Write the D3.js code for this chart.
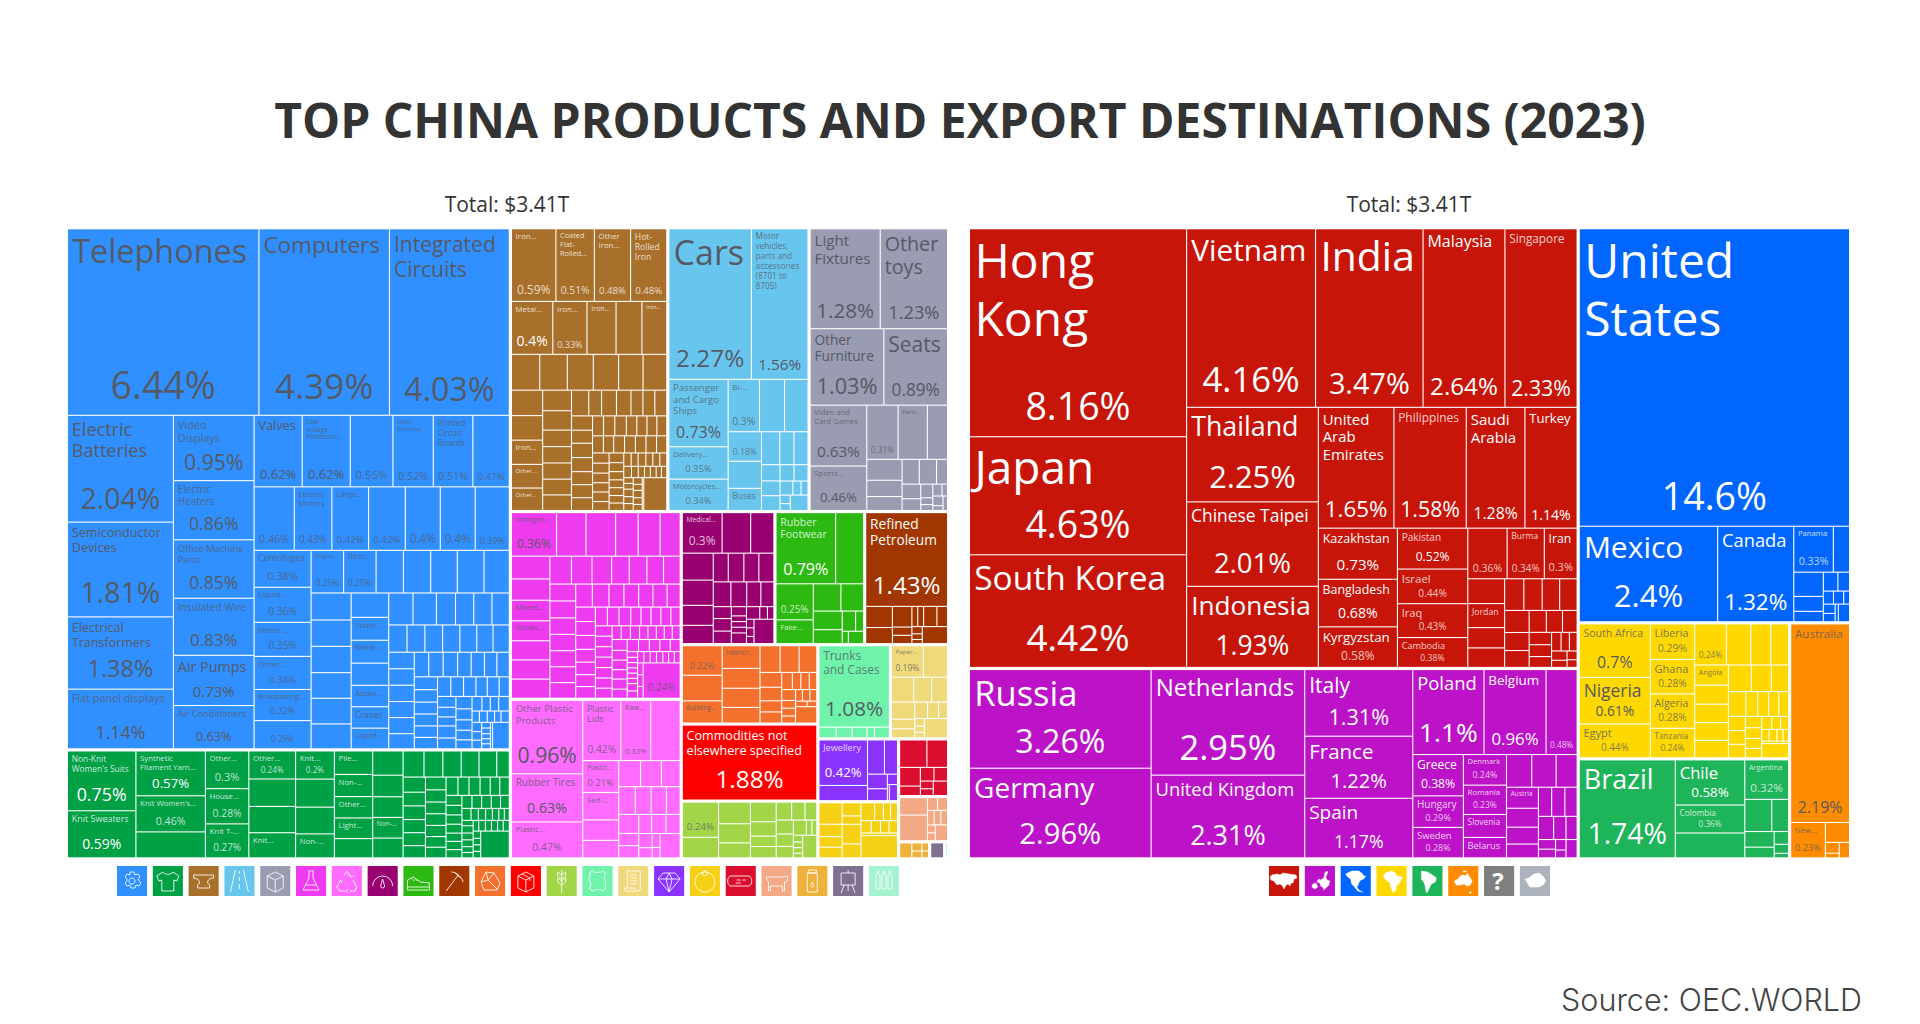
<!DOCTYPE html>
<html>
<head>
<meta charset="utf-8">
<script src="https://cdnjs.cloudflare.com/ajax/libs/d3/7.8.5/d3.min.js"></script>
<style>
  html, body { margin: 0; background: #fff; }
  text { font-family: "Open Sans", sans-serif; }
</style>
</head>
<body>
<svg id="chart" width="1920" height="1024"></svg>
<script>
// products, left treemap. Empty name = cell has no readable name
const machineNames = ["Telephones","Computers","Integrated|Circuits",
  "Electric|Batteries","Semiconductor|Devices","Electrical|Transformers","Flat panel displays",
  "Video|Displays","Electric|Heaters","Office Machine|Parts","Insulated Wire","Air Pumps","Air Conditioners",
  "Valves","Low-|voltage|Protection...","","Other|Electrical...","Printed|Circuit|Boards","",
  "","Electric|Motors","Large...","","","","",
  "Centrifuges","Liquid...","Motor-...","Other...","Broadcasting...","",
  "Engine...","Other...","","","","","",
  "","","","","","",
  "","Stone...","Blank...","","Audio...","Cranes","Liquid..."];
const machineValues = [6.44,4.39,4.03, 2.04,1.81,1.38,1.14, .95,.86,.85,.83,.73,.63,
  .62,.62,.55,.52,.51,.47, .46,.43,.42,.42,.4,.4,.39, .38,.36,.35,.34,.32,.29,
  .25,.25,.21,.21,.205,.205,.195, .195,.19,.19,.185,.185,.18, .165,.155,.155,.15,.145,.145,.14,
  .14,.135,.11,.105,.105,.1, .09,.088,.087,.085,.083,.08,.08, .076,.076,.075,.074,.074,.07,
  .064,.064,.064,.06,.059,.055, .055,.054,.052,.05,.05, .048,.048,.047,.045,.044,.04,
  .042,.036,.036,.032,.03, .04,.036,.036,.032,.03, .028,.026,.026,.022,.022, .028,.015,.016,.015,.013,
  .017,.016,.015,.015, .009,.009,.008,.008,.008, .01,.08];
const machinePrinted = [6.44,4.39,4.03,2.04,1.81,1.38,1.14,.95,.86,.85,.83,.73,.63,.62,.55,.52,.51,.47,.46,.43,.42,.4,.39,.38,.36,.35,.34,.32,.29,.25];

const textileNames = ["Non-Knit|Women's Suits","Knit Sweaters","Synthetic|Filament Yarn...","Knit Women's...","",
  "Other...","House...","Knit T-...","Other...","","","Knit...","Knit...","","","Non-...",
  "Pile...","Non-...","Other...","Light...","","","","","Non-...",""];
const textileValues = [.75,.59,.57,.46,.33, .3,.28,.27, .24,.235,.225,.215, .2,.199,.19,.17, .165,.155,.15,.145,.135,
  .135,.12,.115,.115,.11, .1,.09,.088,.085,.085,.06, .062,.056,.056,.054,.053,.05,
  .048,.046,.044,.044,.042,.04,.04, .04,.037,.037,.034,.032,.032, .029,.028,.027,.026,.024,.024,.024,
  .024,.023,.023,.022,.021,.02, .016,.016,.015,.014,.012,.011,.011, .015,.014,.014,.012,.011,.011,
  .013,.012,.012,.011, .012,.01,.009,.009,.009,.14];
const textilePrinted = [.75,.59,.57,.46,.3,.28,.27,.24,.2];

const metalNames = ["Iron...","Coated|Flat-|Rolled...","Other|Iron...","Hot-|Rolled|Iron","Metal...","Iron...","Iron...","","Iron...",
  "","","","","","","", "","Iron...","Other...","Other..."];
const metalValues = [.59,.51,.48,.48,.4,.33,.281,.25,.24, .185,.18,.17,.165,.16,.155,.145,
  .14,.138,.135,.128,.108,.102, .087,.086,.085,.083,.082,.081,.06, .07,.068,.056,.056,.056,.055,.05,
  .055,.054,.05,.05,.049,.04,.041, .042,.038,.037,.036,.036,.034,.032,
  .034,.034,.033,.033,.032,.031,.03, .029,.028,.029,.027,.026,.024,
  .022,.021,.021,.02,.02,.018,.017, .019,.017,.017,.017,.016,.014, .013,.012,.012,.011,.011,.01,.01,
  .013,.012,.012,.011,.01,.012,.011,.01,.009,.138];
const metalPrinted = [.59,.51,.48,.4,.33];

const transportNames = ["Cars","Motor|vehicles;|parts and|accessories|(8701 to|8705)","Passenger|and Cargo|Ships","Delivery...","Motorcycles...","Bi-...","","","","","Buses"];
const transportValues = [2.27,1.56,.73,.35,.34,.3,.24,.225,.18,.165,.135, .11,.085,.085, .055,.05,.05, .042,.042, .033,.021,.018, .016,.013,.05];
const transportPrinted = [2.27,1.56,.73,.35,.34,.3,.18];

const miscNames = ["Light|Fixtures","Other|toys","Other|Furniture","Seats","Video and|Card Games","Sports...","","Party..."];
const miscValues = [1.28,1.23,1.03,.89,.63,.46,.31,.29,.2, .135,.105,.09, .078,.078,.05, .05,.04, .03,.015,.013, .02,.012, .018,.009,.012];
const miscPrinted = [1.28,1.23,1.03,.89,.63,.46,.31];

const chemicalNames = ["Nitrogen...","","","","","", "","","Mixed...","Nucleic..."];
const chemicalValues = [.36,.235,.236,.18,.175,.16, .16,.15,.145,.14,.135,.135,.135,
  .11,.105,.1,.09,.09,.085,.085, .08,.08,.078,.077,.076,.075,.074, .07,.07,.063,.062,.06,.06,.055,
  .052,.05,.05,.046,.045,.043,.042, .041,.04,.04,.035,.034,.034,.034,.032, .032,.032,.032,.032,.032,.031,.031,
  .023,.023,.023,.021,.021,.02,.02,.02, .03,.027,.026,.026,.028, .025,.025,.024,.023,.023,.022,
  .011,.01,.01,.01,.01,.01, .014,.014,.013,.013,.013,.013, .012,.012,.012,.012,.012,.012,.24];
const chemicalPrinted = [.36,.24];

const plasticNames = ["Other Plastic|Products","Rubber Tires","Plastic...","Plastic|Lids","Raw...","","Plastic...","Self-..."];
const plasticValues = [.96,.63,.47,.42,.33,.325,.21,.18,.135,.115, .105,.1,.09,.085, .08,.078,.07,.07, .045,.045,.045,
  .05,.05, .035,.025,.02,.015,.09];
const plasticPrinted = [.96,.63,.47,.42,.33,.21];

const instrumentNames = ["Medical..."];
const instrumentValues = [.3,.215,.175, .155,.145,.115,.105, .08,.083,.08,.08, .081,.073,.065,.06, .04,.042,.042,
  .026,.016,.016,.016, .03,.031,.018, .015,.012,.012,.01,.09];
const instrumentPrinted = [.3];

const footwearNames = ["Rubber|Footwear","","","Fake..."];
const footwearValues = [.79,.37,.25,.165,.14,.115,.1,.075,.05,.03,.014,.035];
const footwearPrinted = [.79,.25];

const mineralNames = ["Refined|Petroleum"];
const mineralValues = [1.43,.105,.08,.075,.03,.03,.022,.022,.05,.04,.014,.011,.008,.08];
const mineralPrinted = [1.43];

const stoneNames = ["","","Building...","Interior..."];
const stoneValues = [.22,.19,.165,.16,.14,.135,.11,.1,.095,.088,.06,.055,.045,.045,.034,.027,.027,.024,.028,.02,.02,.018,.015,.016,.015,.012,.01,.065];
const stonePrinted = [.22];

const commodityNames = ["Commodities not|elsewhere specified"];
const commodityValues = [1.88];
const commodityPrinted = [1.88];

const vegetableValues = [.24,.14,.13,.115,.09,.095,.07,.05,.055,.052,.045,.04,.045,.04,.037,.037,.016,.014,.012,.01,.01,.008,.06];
const vegetablePrinted = [.24];

const trunkNames = ["Trunks|and Cases"];
const trunkValues = [1.08,.035,.032,.03,.015,.03];
const trunkPrinted = [1.08];

const paperNames = ["Paper..."];
const paperValues = [.19,.145,.105,.085,.075,.075,.042,.04,.04,.034,.028,.014,.011,.01,.085];
const paperPrinted = [.19];

const preciousNames = ["Jewellery"];
const preciousValues = [.42,.14,.11,.085,.055,.045,.02,.006,.025];
const preciousPrinted = [.42];

const foodValues = [.095,.055,.047,.047,.047,.03,.07,.05,.047,.03,.024,.024,.024,.022,.02,.02,.018,.155];
const woodValues = [.145,.11,.075,.038,.036,.036,.019,.017,.04];
const animalValues = [.095,.14,.025,.025,.019,.019,.019,.012,.012,.038];
const byproductValues = [.04,.018,.015,.012,.01];
const artValues = [.046];
const weaponValues = [.012];

// export destinations, right treemap
const asiaNames = ["Hong|Kong","Japan","South Korea","Vietnam","India","Malaysia","Singapore","Thailand","Chinese Taipei","Indonesia",
  "United|Arab|Emirates","Philippines","Saudi|Arabia","Turkey","Kazakhstan","Bangladesh","Kyrgyzstan","Pakistan","Israel","Iraq","Cambodia",
  "","Burma","Iran","","Jordan"];
const asiaValues = [8.16,4.63,4.42,4.16,3.47,2.64,2.33,2.25,2.01,1.93,1.65,1.58,1.28,1.14,.73,.68,.58,.52,.44,.43,.38,.36,.34,.3,
  .165,.16,.135,.13, .11,.105,.1,.1, .098,.08,.075, .068,.064,.058, .05,.048,.044, .032,.028,.026, .026,.02,.016,.014];
const asiaPrinted = [8.16,4.63,4.42,4.16,3.47,2.64,2.33,2.25,2.01,1.93,1.65,1.58,1.28,1.14,.73,.68,.58,.52,.44,.43,.38,.36,.34,.3];

const europeNames = ["Russia","Germany","Netherlands","United Kingdom","Italy","France","Spain","Poland","Belgium","",
  "Greece","Hungary","Sweden","Denmark","Romania","Slovenia","Belarus","","","","Austria"];
const europeValues = [3.26,2.96,2.95,2.31,1.31,1.22,1.17,1.1,.96,.48,.38,.29,.28,.24,.23,.18,.16,
  .15,.145,.125, .122,.11,.098,.08, .07,.07,.065, .064,.052,.047, .03,.027,.02,.015,.037];
const europePrinted = [3.26,2.96,2.95,2.31,1.31,1.22,1.17,1.1,.96,.48,.38,.29,.28,.24,.23];

const northAmericaNames = ["United|States","Mexico","Canada","Panama"];
const northAmericaValues = [14.6,2.4,1.32,.33,.135,.13,.08,.056,.05,.04,.024,.024,.014,.02,.018,.01,.036];
const northAmericaPrinted = [14.6,2.4,1.32,.33];

const africaNames = ["South Africa","Nigeria","Egypt","Liberia","Ghana","Algeria","Tanzania","","","","","Angola"];
const africaValues = [.7,.61,.44,.29,.28,.28,.24,.24,.185,.15,.135, .125,.118,.115,.11,.108, .112,.098,.084, .08,.054,.05,.046,
  .045,.044,.043,.042, .034,.032,.03,.028, .024,.021,.019, .016,.017,.013,.012, .012,.07];
const africaPrinted = [.7,.61,.44,.29,.28,.24];

const southAmericaNames = ["Brazil","Chile","Colombia","","Argentina"];
const southAmericaValues = [1.74,.58,.36,.319,.32,.16,.1,.085,.058,.034,.024,.012];
const southAmericaPrinted = [1.74,.58,.36,.32];

const oceaniaNames = ["Australia","New..."];
const oceaniaValues = [2.19,.23,.09,.028,.012,.03];
const oceaniaPrinted = [2.19,.23];

const DARK = "#555a66", LIGHT = "#ffffff";

// names whose type does not follow the fitting rule in drawTree
const nameSizes = {
  "Russia": 34.5, "Germany": 28, "Mexico": 30, "Italy": 21, "France": 20.5, "Spain": 19, "Japan": 46, "Brazil": 27,
  "Thailand": 26.8, "Indonesia": 26.2, "South Korea": 33.5, "Malaysia": 16, "Singapore": 11.8,
  "Video|Displays": 11, "Electric|Heaters": 10, "Electric|Batteries": 18, "Electrical|Transformers": 12.5,
  "Non-Knit|Women's Suits": 8.4, "Pakistan": 10
};

const productGroups = [
  { color: "#3090ff", text: DARK, names: machineNames, values: machineValues, printed: machinePrinted },
  { color: "#00a045", text: LIGHT, names: textileNames, values: textileValues, printed: textilePrinted },
  { color: "#a8702b", text: LIGHT, names: metalNames, values: metalValues, printed: metalPrinted },
  { color: "#68c6ee", text: DARK, names: transportNames, values: transportValues, printed: transportPrinted },
  { color: "#9a9cb1", text: DARK, names: miscNames, values: miscValues, printed: miscPrinted },
  { color: "#ee3bf0", text: DARK, names: chemicalNames, values: chemicalValues, printed: chemicalPrinted },
  { color: "#ff6cff", text: DARK, names: plasticNames, values: plasticValues, printed: plasticPrinted },
  { color: "#990070", text: LIGHT, names: instrumentNames, values: instrumentValues, printed: instrumentPrinted },
  { color: "#2cb911", text: LIGHT, names: footwearNames, values: footwearValues, printed: footwearPrinted },
  { color: "#a23600", text: LIGHT, names: mineralNames, values: mineralValues, printed: mineralPrinted },
  { color: "#f4712d", text: DARK, names: stoneNames, values: stoneValues, printed: stonePrinted },
  { color: "#ff0000", text: LIGHT, names: commodityNames, values: commodityValues, printed: commodityPrinted },
  { color: "#a2d648", text: DARK, names: [], values: vegetableValues, printed: vegetablePrinted },
  { color: "#6ff3ab", text: DARK, names: trunkNames, values: trunkValues, printed: trunkPrinted },
  { color: "#efd97a", text: DARK, names: paperNames, values: paperValues, printed: paperPrinted },
  { color: "#8a33ff", text: LIGHT, names: preciousNames, values: preciousValues, printed: preciousPrinted },
  { color: "#f6d014", text: DARK, names: [], values: foodValues, printed: [] },
  { color: "#dc0e30", text: LIGHT, names: [], values: woodValues, printed: [] },
  { color: "#f3a985", text: DARK, names: [], values: animalValues, printed: [] },
  { color: "#eeb23c", text: DARK, names: [], values: byproductValues, printed: [] },
  { color: "#7f6f90", text: LIGHT, names: [], values: artValues, printed: [] },
  { color: "#a6f2d0", text: DARK, names: [], values: weaponValues, printed: [] }
];

const destinationGroups = [
  { color: "#c8150a", text: LIGHT, names: asiaNames, values: asiaValues, printed: asiaPrinted },
  { color: "#bc12c8", text: LIGHT, names: europeNames, values: europeValues, printed: europePrinted },
  { color: "#0066ff", text: LIGHT, names: northAmericaNames, values: northAmericaValues, printed: northAmericaPrinted },
  { color: "#ffd800", text: DARK, names: africaNames, values: africaValues, printed: africaPrinted },
  { color: "#1eb45a", text: LIGHT, names: southAmericaNames, values: southAmericaValues, printed: southAmericaPrinted },
  { color: "#ff8c00", text: DARK, names: oceaniaNames, values: oceaniaValues, printed: oceaniaPrinted }
];

// legend glyphs, 30x30 box
const productIcons = [
  "M13 6h4l1 3 3-1 2 3-2 2 1 2 2 2-2 3-3-1-1 3h-4l-1-3-3 1-2-3 2-2v-2l-2-2 2-3 3 1zM15 12a3 3 0 1 0 .01 0",
  "M10 6l-6 4 2 5 3-1v11h12V14l3 1 2-5-6-4c-1 3-9 3-10 0z",
  "M5 9h20v3c-4 0-6 2-6 5l2 2v3H9v-3l2-2c0-3-3-5-6-5z",
  "M11 4L6 26M19 4l5 22M15 5v3M15 11v4M15 18v5",
  "M7 10l8-4 8 4v12l-8 4-8-4zM7 10l8 4 8-4M15 14v12",
  "M12 5h6M13 5v7L7 24h16l-6-12V5M10 19h10",
  "M12 10l3-5 4 6M9 14l-4 7 3 4h5M18 25h5l2-4-4-7M17 8l2 3 3-1M7 16l2-2 1 3M16 23l-2 2 2 2",
  "M5 20a10 10 0 0 1 20 0M15 13l-2 7a2 2 0 0 0 4 0z",
  "M4 14l6-3 7 5 9 1v4H4zM4 21v3h22v-3M9 13l2 2M12 13l2 2",
  "M7 25L19 9M12 6c5 0 10 4 12 10M16 7l5 5",
  "M9 24l-3-8 5-10 8 1 6 10-3 7zM11 6l2 8-7 2M13 14l9 9M19 7l-6 7",
  "M7 10l8-4 8 4v12l-8 4-8-4zM7 10l8 4 8-4M15 14v12M11 8l8 4v3",
  "M15 4v23M15 9l-4-3v4l4 3M15 9l4-3v4l-4 3M15 15l-4-3v4l4 3M15 15l4-3v4l-4 3",
  "M10 5c1 2 9 2 10 0l3 2c-2 4-1 6 0 8s-1 6 0 8l-3 2c-1-2-9-2-10 0l-3-2c1-2 2-6 0-8s2-4 0-8z",
  "M9 5h13v18a2 2 0 0 1-2 2H8a2 2 0 0 1-2-2v-1h11v1M9 5v16M12 9h7M12 12h7M12 15h7M12 18h7",
  "M9 7h12l5 6-11 13L4 13zM4 13h22M12 13l3-6 3 6M12 13l3 13 3-13",
  "M15 6a10 10 0 1 0 .01 0M12 8l3-4 3 4-3 2z",
  "M5 10h18a3 5 0 0 1 0 10H5a3 5 0 0 1 0-10zM11 14h4M17 14h3M10 17h5",
  "M5 11h16l5-1v5l-3 1v9h-2v-5H9v5H7v-9L5 13z",
  "M11 4h8v3h-8zM10 7h10v19H10zM15 16c-2 3-2 5 0 5s2-2 0-5z",
  "M8 7h14v12H8zM15 4v3M11 19l-3 8M19 19l3 8M15 19v6",
  "M7 10l2-5 2 5v13H7zM13 10l2-5 2 5v13h-4zM19 10l2-5 2 5v13h-4z"
];
const productIconColors = productGroups.map(g => g.color);

const regionIcons = [
  "M3 9l5-1 3 1 3-2 6 1 7 1 1 3-3 1-1 4-2 0-1 3-2-2-2 1-2 4-2-4-3-1-2 1-3-4-3-1-1-3z",
  "M13 21l-2-4-3 1-1 3 3 2zM12 16l2-3 2 1 3-2 1-5 2-2 1 1-2 5 1 3 3 1-1 4-3 3-2 2-1-3-2-1-1-3-3-1z",
  "M5 8l6-3 7 0 3 2 2 3 2 0-2 3-3 1-2 3-1 3-1 1 2 3 4 2-5-1-3-4-3-3-1-5-3-2z",
  "M9 7l6-2 4 2 1 3 6 1-3 6-3 3-1 5-3 1-2-6-1-4-4-2-2-4z",
  "M9 5l6 1 5 3 4 3-1 4-4 2-2 4-2 4-1 1-1-6-1-4-3-4z",
  "M6 15l4-2 2-3 3-1 3 1 1-3 3 5 2 3-2 4-3 1-3-2-4 1-4 0zM21 26l2 0-1 2zM15 5h3v1h-3z",
  "",
  "M5 13l4-1 5-4 5-1 4 3 3 5-3 4-4 2-5 0-4 0-2-3-1-2z"
];
const regionIconColors = ["#c8150a","#bc12c8","#0066ff","#ffd800","#1eb45a","#ff8c00","#7f7f80","#adb3bd"];

const svg = d3.select("#chart");

// scratch text used for measuring label widths
const ruler = svg.append("text").attr("font-size", 100).attr("visibility", "hidden");
function emWidth(str) {
  return ruler.text(str).node().getComputedTextLength() / 100;
}

function drawTree(groups, left, top, width, height) {
  const data = {
    children: groups.map(g => ({
      group: g,
      children: g.values.map((v, i) => ({ value: v, name: g.names[i] || "", printed: g.printed.includes(v), group: g }))
    }))
  };
  const root = d3.hierarchy(data).sum(d => d.value || 0);
  d3.treemap()
    .size([width, height])
    .tile(d3.treemapSquarify)
    .paddingInner(d => d.depth === 0 ? 3.2 : 1.1)(root);

  const layer = svg.append("g").attr("transform", `translate(${left},${top})`);
  const cells = layer.selectAll("g.cell")
    .data(root.leaves())
    .join("g")
    .attr("class", "cell");

  cells.append("rect")
    .attr("x", d => d.x0)
    .attr("y", d => d.y0)
    .attr("width", d => Math.max(0, d.x1 - d.x0))
    .attr("height", d => Math.max(0, d.y1 - d.y0))
    .attr("fill", d => d.data.group.color);

  cells.each(function (d) {
    const w = d.x1 - d.x0, h = d.y1 - d.y0;
    const cell = d3.select(this);
    const ink = d.data.group.text;
    let pctSize = 0;
    if (d.data.printed) {
      const label = `${d.data.value}%`;
      const widthShare = w > 100 ? 0.76 : 0.84;
      pctSize = Math.min(37.5, 0.33 * h, widthShare * w / emWidth(label));
      if (pctSize < 20) pctSize *= 0.92;
      cell.append("text")
        .attr("x", (d.x0 + d.x1) / 2)
        .attr("y", d.y1 - (0.35 * pctSize + 3))
        .attr("text-anchor", "middle")
        .attr("font-size", pctSize)
        .attr("fill", ink)
        .attr("fill-opacity", pctSize < 12 ? 0.75 : 1)
        .text(label);
    }
    if (d.data.name) {
      const lines = d.data.name.split("|");
      const widest = d3.max(lines, emWidth);
      const room = h - (pctSize ? pctSize * 1.35 : 0) - 6;
      const fill = lines.length > 1 ? 0.92 : 0.96;
      // shortened names stay small however big the cell is
      const cap = d.data.name.includes("...") ? 7.8 : 48;
      const size = nameSizes[d.data.name] || Math.min(cap, fill * (w - 8) / widest, room / (lines.length * 1.2));
      lines.forEach((line, i) => {
        cell.append("text")
          .attr("x", d.x0 + 3.5 + size * 0.02)
          .attr("y", d.y0 + 2 + size * (0.98 + i * 1.2))
          .attr("font-size", size)
          .attr("fill", ink)
          .attr("fill-opacity", size < 12 ? 0.8 : 1)
          .text(line);
      });
    }
  });
}

function drawLegend(paths, colors, left, right, filled) {
  const x = d3.scaleBand().domain(d3.range(paths.length)).range([left, right]).paddingInner(0.16);
  const item = svg.append("g").selectAll("g")
    .data(paths)
    .join("g")
    .attr("transform", (d, i) => `translate(${x(i)},866)`);
  item.append("rect")
    .attr("width", x.bandwidth())
    .attr("height", 30)
    .attr("fill", (d, i) => colors[i]);
  item.append("path")
    .attr("d", d => d)
    .attr("fill", filled ? "#fff" : "none")
    .attr("stroke", "#fff")
    .attr("stroke-opacity", filled ? 1 : 0.85)
    .attr("stroke-width", filled ? 0.5 : 1);
}

svg.append("text")
  .attr("x", 960).attr("y", 138)
  .attr("text-anchor", "middle")
  .attr("font-size", 48)
  .attr("font-weight", 700)
  .attr("fill", "#333")
  .text("TOP CHINA PRODUCTS AND EXPORT DESTINATIONS (2023)");

[507, 1409].forEach(cx => {
  svg.append("text")
    .attr("x", cx).attr("y", 211.5)
    .attr("text-anchor", "middle")
    .attr("font-size", 21)
    .attr("fill", "#333")
    .text("Total: $3.41T");
});

drawTree(productGroups, 68, 229.3, 879, 628);
drawTree(destinationGroups, 970, 229.3, 879, 628);

drawLegend(productIcons, productIconColors, 117, 899, false);
drawLegend(regionIcons, regionIconColors, 1269, 1550, true);

// question mark tile in the region legend
svg.append("text")
  .attr("x", 1498).attr("y", 890)
  .attr("text-anchor", "middle")
  .attr("font-size", 24)
  .attr("font-weight", 700)
  .attr("fill", "#fff")
  .text("?");

svg.append("text")
  .attr("x", 1862).attr("y", 1010.5)
  .attr("text-anchor", "end")
  .attr("font-size", 30.5)
  .attr("font-weight", 300)
  .attr("fill", "#444")
  .style("font-family", "Inter, sans-serif")
  .text("Source: OEC.WORLD");

ruler.remove();
</script>
</body>
</html>
